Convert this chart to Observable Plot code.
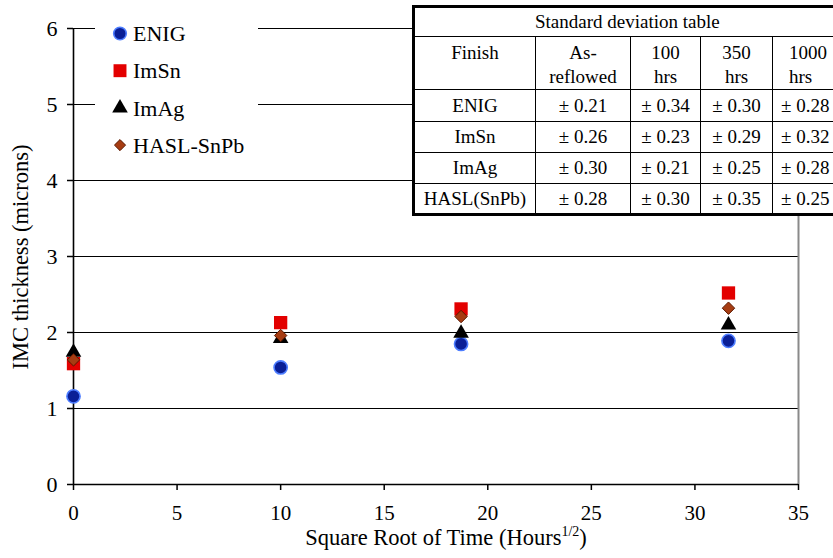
<!DOCTYPE html>
<html><head><meta charset="utf-8">
<script src="https://cdn.jsdelivr.net/npm/d3@7"></script>
<script src="https://cdn.jsdelivr.net/npm/@observablehq/plot@0.6"></script>
<style>
html,body{margin:0;padding:0;background:#fff;overflow:hidden;}
#wrap{position:relative;width:833px;height:558px;overflow:hidden;font-family:"Liberation Serif","Times New Roman",Tinos,"Nimbus Roman","Noto Serif","DejaVu Serif",serif;color:#000;}
#wrap svg.plot{position:absolute;left:0;top:0;}
#wrap svg text{font-family:"Liberation Serif","Times New Roman",Tinos,"Nimbus Roman","Noto Serif","DejaVu Serif",serif;}
#sdtable{position:absolute;left:412px;top:5px;width:459px;border-collapse:collapse;background:#fff;border:3px solid #000;font-size:19px;table-layout:fixed;font-family:inherit;}
#sdtable td{border:1.5px solid #000;text-align:center;padding:0;vertical-align:middle;line-height:22px;white-space:nowrap;overflow:hidden;}
#sdtable tr.head td{vertical-align:top;line-height:24px;padding-top:4px;}
#xtitle{position:absolute;left:446px;top:526.5px;transform:translateX(-50%);font-size:22.5px;line-height:22px;white-space:nowrap;}
#xtitle sup{font-size:14px;vertical-align:9px;line-height:0;}
#ytitle{position:absolute;left:21px;top:257px;transform:translate(-50%,-50%) rotate(-90deg);font-size:22.5px;line-height:22px;white-space:nowrap;}
#legend{position:absolute;left:0;top:0;}
</style></head><body><div id="wrap"></div>
<script>
// ---- data ----
const xValues = [0, 10, 18.71, 31.62];           // sqrt(hours): 0, 100, 350, 1000 h
const enig = [1.16, 1.54, 1.85, 1.89];
const imsn = [1.59, 2.13, 2.31, 2.52];
const imag = [1.74, 1.92, 1.99, 2.10];
const hasl = [1.64, 1.96, 2.21, 2.32];
const seriesNames = ["ENIG", "ImSn", "ImAg", "HASL-SnPb"];
const xTicks = [0, 5, 10, 15, 20, 25, 30, 35];
const yTicks = [0, 1, 2, 3, 4, 5, 6];
const xTitle = "Square Root of Time (Hours";
const xTitleSup = "1/2";
const yTitle = "IMC thickness (microns)";
const tableTitle = "Standard deviation table";
const tableHeader = [["Finish"], ["As-", "reflowed"], ["100", "hrs"], ["350", "hrs"], ["1000", "hrs"]];
const tableFinishes = ["ENIG", "ImSn", "ImAg", "HASL(SnPb)"];
const sdAsReflowed = [0.21, 0.26, 0.30, 0.28];
const sd100 = [0.34, 0.23, 0.21, 0.30];
const sd350 = [0.30, 0.29, 0.25, 0.35];
const sd1000 = [0.28, 0.32, 0.28, 0.25];

const FONT = '"Liberation Serif","Times New Roman",Tinos,"Nimbus Roman","Noto Serif","DejaVu Serif",serif';

// ---- styles per series ----
const styles = [
  {symbol: "circle",   r: 6.6, fill: "#0a1f96", stroke: "#4d7dff", strokeWidth: 1.6},
  {symbol: "square",   r: 7.5, fill: "#e30000", stroke: "none", strokeWidth: 0},
  {symbol: "triangle", r: 5.8, fill: "#000000", stroke: "none", strokeWidth: 0},
  {symbol: "diamond2", r: 5.6, fill: "#a63c12", stroke: "#5a1800", strokeWidth: 1}
];
const seriesValues = [enig, imsn, imag, hasl];

const wrap = document.getElementById("wrap");

const dotMarks = seriesValues.map((vals, k) => {
  const rows = xValues.map((x, i) => ({x, y: vals[i], s: seriesNames[k]}));
  const st = styles[k];
  return Plot.dot(rows, {x: "x", y: "y", symbol: () => st.symbol, r: st.r, fill: st.fill,
    stroke: st.stroke, strokeWidth: st.strokeWidth});
});

const chart = Plot.plot({
  width: 833, height: 558,
  marginLeft: 73, marginRight: 35, marginTop: 28, marginBottom: 74,
  style: {fontFamily: FONT, fontSize: "21px", background: "transparent", color: "#000"},
  x: {domain: [0, 35]},
  y: {domain: [0, 6]},
  symbol: {type: "identity"},
  marks: [
    Plot.ruleY(yTicks.filter(d => d > 0), {stroke: "#000", strokeWidth: 1.2}),
    Plot.ruleX([35], {stroke: "#8a8a8a", strokeWidth: 2}),
    Plot.axisX({ticks: xTicks, tickSize: 6, tickPadding: 14.5, fontSize: 21, label: null, strokeWidth: 1.5, tickFormat: d => String(d)}),
    Plot.axisY({ticks: yTicks, tickSize: 6, tickPadding: 10, fontSize: 22, label: null, strokeWidth: 1.5, tickFormat: d => String(d)}),
    Plot.ruleY([0], {stroke: "#000", strokeWidth: 1.6}),
    Plot.ruleX([0], {stroke: "#000", strokeWidth: 1.6}),
    ...dotMarks
  ]
});
chart.classList.add("plot");
wrap.appendChild(chart);

// ---- legend (white box over gridlines) ----
const leg = d3.select(wrap).append("svg").attr("id", "legend").attr("width", 833).attr("height", 200);
leg.append("rect").attr("x", 95).attr("y", 10).attr("width", 163).attr("height", 156).attr("fill", "#fff");
const legR = [6.3, 7.3, 5.8, 5.0];
seriesNames.forEach((name, k) => {
  const cy = 33.5 + k * 37.2;
  const st = styles[k];
  const sym = {circle: d3.symbolCircle, square: d3.symbolSquare, triangle: d3.symbolTriangle, diamond2: d3.symbolDiamond2}[st.symbol];
  leg.append("path").attr("transform", `translate(120,${cy})`)
    .attr("d", d3.symbol(sym, legR[k] * legR[k] * Math.PI)())
    .attr("fill", st.fill).attr("stroke", st.stroke).attr("stroke-width", st.strokeWidth);
  leg.append("text").attr("x", 133).attr("y", cy).attr("dy", "0.35em")
    .attr("font-size", 22).text(name);
});

// ---- axis titles ----
const xt = document.createElement("div");
xt.id = "xtitle";
xt.innerHTML = xTitle + "<sup>" + xTitleSup + "</sup>)";
wrap.appendChild(xt);
const yt = document.createElement("div");
yt.id = "ytitle";
yt.textContent = yTitle;
wrap.appendChild(yt);

// ---- standard deviation table ----
const fmt = v => "\u00b1 " + v.toFixed(2);
const colW = [122, 95, 70, 72, 100];
const table = document.createElement("table");
table.id = "sdtable";
const cg = document.createElement("colgroup");
colW.forEach(w => { const c = document.createElement("col"); c.style.width = w + "px"; cg.appendChild(c); });
table.appendChild(cg);
const tr0 = table.insertRow();
tr0.style.height = "30px";
const c0 = tr0.insertCell(); c0.colSpan = 5; c0.textContent = tableTitle;
c0.style.textAlign = "left"; c0.style.paddingLeft = "120px";
const trh = table.insertRow(); trh.className = "head"; trh.style.height = "53px";
tableHeader.forEach((lines, j) => {
  const c = trh.insertCell(); c.innerHTML = lines.join("<br>");
  if (j === 4) { c.style.textAlign = "left"; c.style.paddingLeft = "16px"; }
});
const rowH = [32, 31, 31, 31];
tableFinishes.forEach((f, i) => {
  const tr = table.insertRow(); tr.style.height = rowH[i] + "px";
  [f, fmt(sdAsReflowed[i]), fmt(sd100[i]), fmt(sd350[i]), fmt(sd1000[i])].forEach((t, j) => {
    const c = tr.insertCell(); c.textContent = t;
    if (j === 4) { c.style.textAlign = "left"; c.style.paddingLeft = "8px"; }
  });
});
wrap.appendChild(table);
</script>
</body></html>
